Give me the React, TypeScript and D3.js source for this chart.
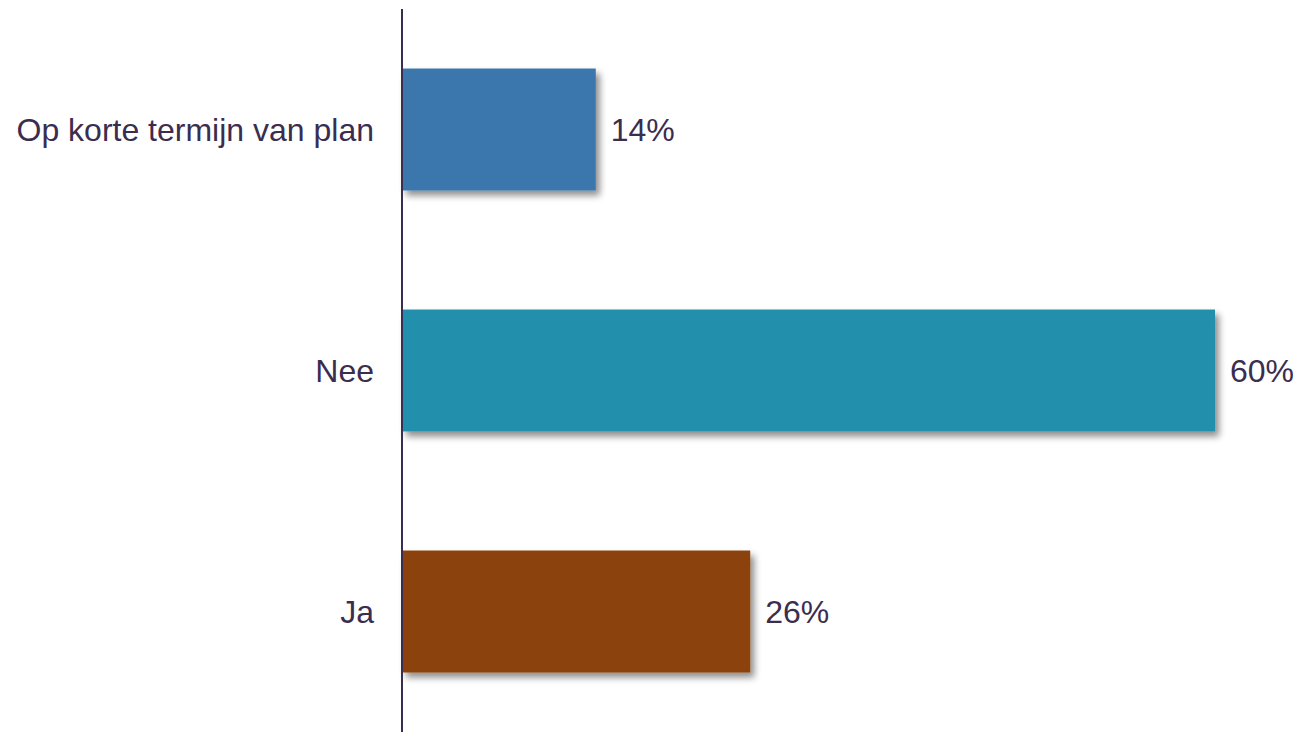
import React from "react";
import * as d3 from "d3";

const categories = ["Op korte termijn van plan", "Nee", "Ja"];
const values = [14.3, 60.0, 25.7];
const colors = ["#3a76ad", "#208fad", "#8b4309"];

const W = 1307;
const H = 737;
const axisX = 402;
const top = 9;
const bottom = 732;

export default function App() {
  const x = d3.scaleLinear().domain([0, 60]).range([axisX, 1215]);
  const y = d3.scaleBand<string>().domain(categories).range([top, bottom]).paddingInner(0.494).paddingOuter(0.247);
  const fmt = (v: number) => d3.format(".0f")(v) + "%";
  const textColor = "#3b2d50";
  const font = "'Liberation Sans', Arial, sans-serif";
  return (
    <svg width={W} height={H} style={{ position: "absolute", left: 0, top: 0, background: "#fff" }}>
      <defs>
        <filter id="sh" x="-10%" y="-20%" width="130%" height="160%">
          <feGaussianBlur in="SourceAlpha" stdDeviation="3.5" />
          <feOffset dx="4" dy="5" result="b" />
          <feComponentTransfer>
            <feFuncA type="linear" slope="0.45" />
          </feComponentTransfer>
          <feMerge>
            <feMergeNode />
            <feMergeNode in="SourceGraphic" />
          </feMerge>
        </filter>
      </defs>
      {categories.map((c, i) => {
        const yy = y(c)!;
        const bw = y.bandwidth();
        return (
          <g key={c}>
            <rect x={x(0)} y={yy} width={x(values[i]) - x(0)} height={bw} fill={colors[i]} filter="url(#sh)" />
            <text x={x(values[i]) + 15} y={yy + bw / 2} dy="0.35em" fontFamily={font} fontSize={32} fill={textColor}>
              {fmt(values[i])}
            </text>
            <text x={374} y={yy + bw / 2} dy="0.35em" textAnchor="end" fontFamily={font} fontSize={32} fill={textColor}>
              {c}
            </text>
          </g>
        );
      })}
      <line x1={axisX} x2={axisX} y1={top} y2={bottom} stroke="#3b2d50" strokeWidth={2} />
    </svg>
  );
}
